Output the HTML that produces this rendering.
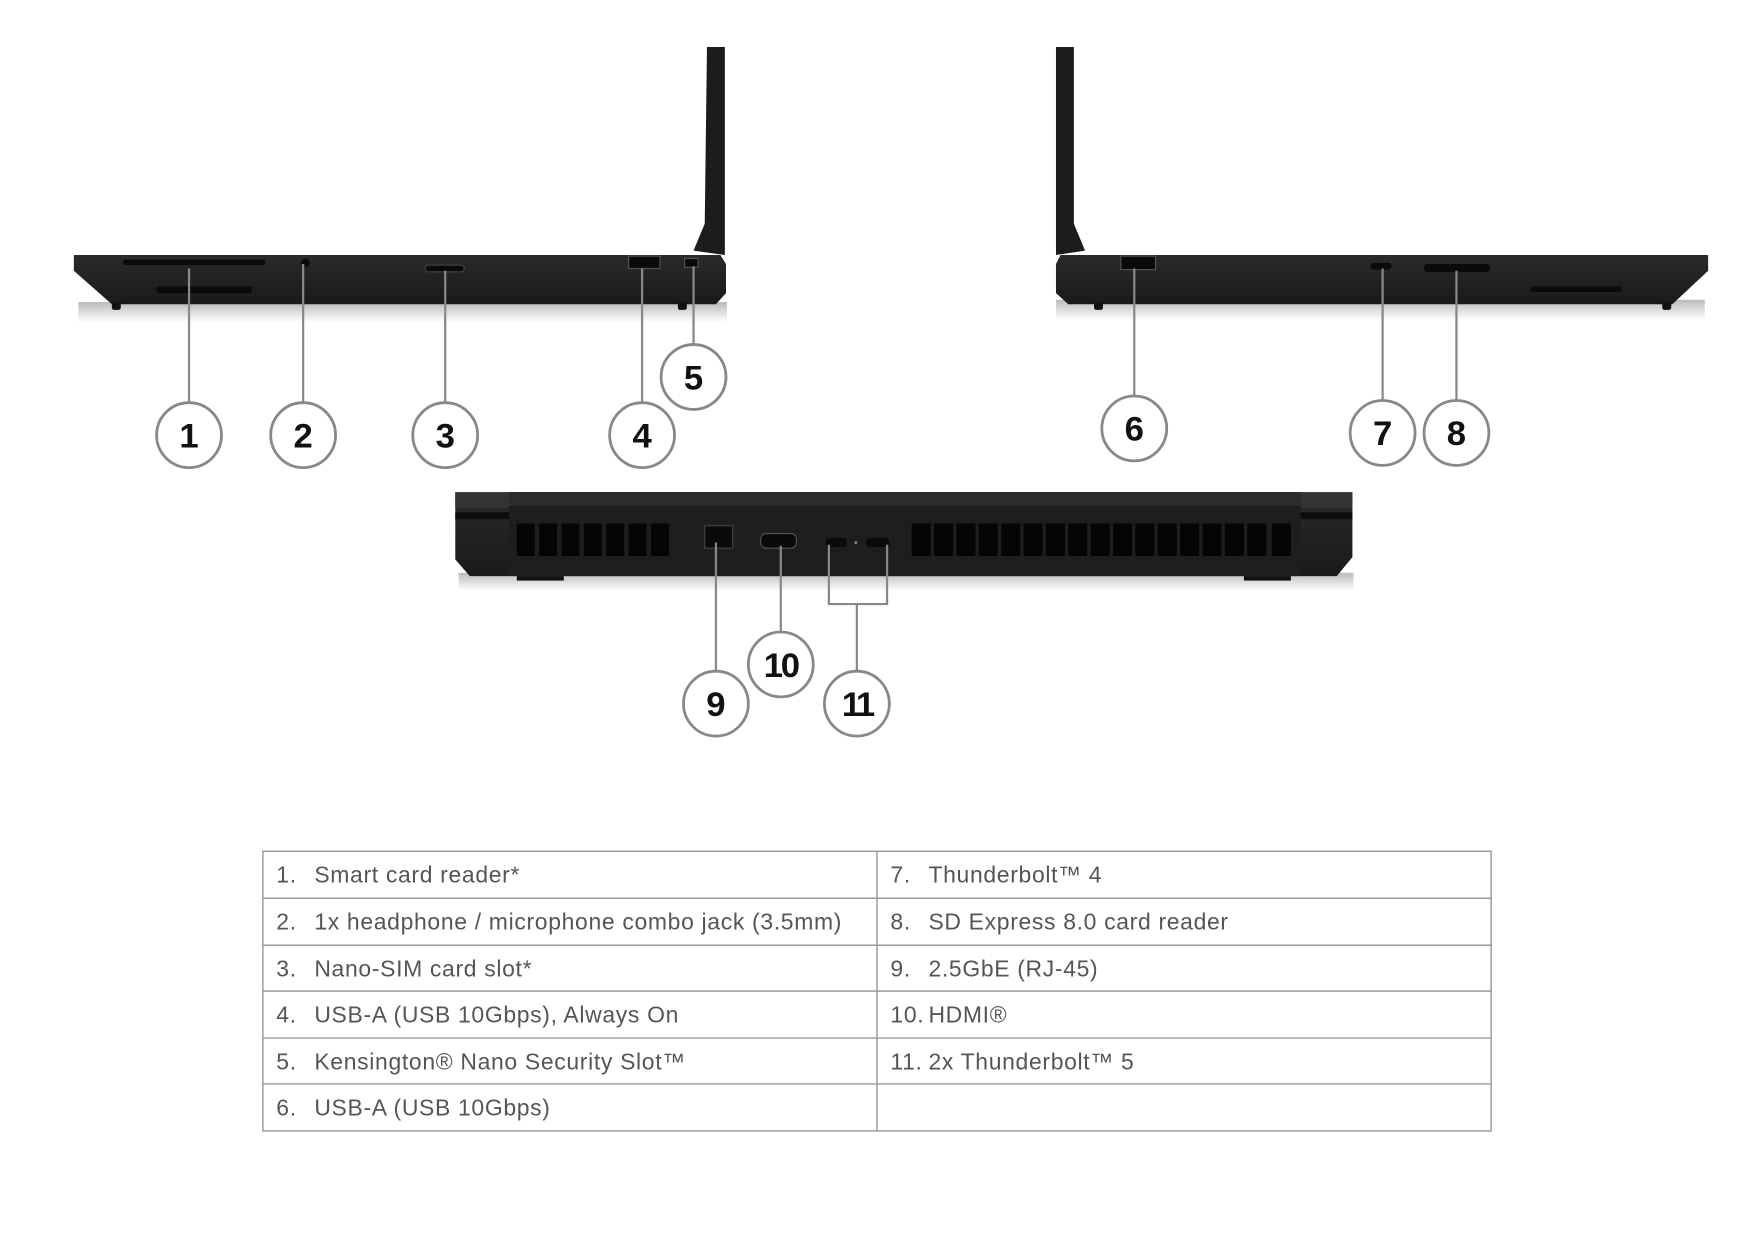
<!DOCTYPE html>
<html><head><meta charset="utf-8"><style>
html,body{margin:0;padding:0;background:#fff;}
svg{display:block;}
</style></head><body>
<svg width="1754" height="1240" viewBox="0 0 1568 1108.5" xmlns="http://www.w3.org/2000/svg">
<defs>
<linearGradient id="sh" x1="0" y1="0" x2="0" y2="1"><stop offset="0" stop-color="#bbb"/><stop offset="1" stop-color="#fff"/></linearGradient>
<linearGradient id="bd" x1="0" y1="0" x2="0" y2="1"><stop offset="0" stop-color="#2a2a2a"/><stop offset="1" stop-color="#1a1a1a"/></linearGradient>
</defs>
<!-- LEFT LAPTOP -->
<rect x="70" y="270" width="580" height="18" fill="url(#sh)"/>
<path d="M632 42 L648 42 L648 228 L620 224 L630 200 Z" fill="#1c1c1c"/>
<path d="M66 228 L644 228 L649 236 L649 262 L640 272 L100 272 L66 242 Z" fill="url(#bd)"/>
<rect x="100" y="270" width="8" height="7" rx="2" fill="#111"/>
<rect x="606" y="270" width="8" height="7" rx="2" fill="#111"/>
<rect x="110" y="232" width="127" height="5" rx="2" fill="#0a0a0a"/>
<rect x="140" y="256" width="85" height="6" rx="2" fill="#0a0a0a"/>
<circle cx="273" cy="235" r="4" fill="#0a0a0a"/>
<rect x="380" y="237" width="35" height="6" rx="3" fill="#0a0a0a" stroke="#444"/>
<rect x="562" y="229" width="28" height="11" fill="#0a0a0a" stroke="#555"/>
<rect x="612" y="231" width="12" height="8" fill="#0a0a0a" stroke="#555"/>
<!-- RIGHT LAPTOP -->
<rect x="944" y="268" width="580" height="18" fill="url(#sh)"/>
<path d="M944 42 L960 42 L960 200 L970 224 L944 228 Z" fill="#1c1c1c"/>
<path d="M948 228 L1527 228 L1527 242 L1495 272 L955 272 L944 262 L944 236 Z" fill="url(#bd)"/>
<rect x="978" y="270" width="8" height="7" rx="2" fill="#111"/>
<rect x="1486" y="270" width="8" height="7" rx="2" fill="#111"/>
<rect x="1002" y="229" width="31" height="12" fill="#0a0a0a" stroke="#555"/>
<rect x="1225" y="235" width="19" height="6" rx="3" fill="#0a0a0a"/>
<rect x="1273" y="236" width="59" height="7" rx="3" fill="#0a0a0a"/>
<rect x="1368" y="256" width="82" height="5" rx="2" fill="#0a0a0a"/>
<!-- REAR -->
<rect x="410" y="512" width="800" height="16" fill="url(#sh)"/>
<path d="M407 440 L1209 440 L1209 498 L1195 515 L420 515 L407 500 Z" fill="url(#bd)"/>
<rect x="407" y="440" width="802" height="14" fill="#333"/>
<rect x="455" y="440" width="708" height="75" fill="#1e1e1e"/>
<rect x="455" y="440" width="708" height="12" fill="#2c2c2c"/>
<rect x="407" y="458" width="48" height="6" fill="#0c0c0c"/>
<rect x="1163" y="458" width="46" height="6" fill="#0c0c0c"/>
<rect x="462" y="515" width="42" height="4" fill="#111"/>
<rect x="1112" y="515" width="42" height="4" fill="#111"/>
<g fill="#050505">
<rect x="462" y="468" width="16" height="29"/><rect x="482" y="468" width="16" height="29"/><rect x="502" y="468" width="16" height="29"/><rect x="522" y="468" width="16" height="29"/><rect x="542" y="468" width="16" height="29"/><rect x="562" y="468" width="16" height="29"/><rect x="582" y="468" width="16" height="29"/>
</g>
<g fill="#050505">
<rect x="815" y="468" width="17" height="29"/><rect x="835" y="468" width="17" height="29"/><rect x="855" y="468" width="17" height="29"/><rect x="875" y="468" width="17" height="29"/><rect x="895" y="468" width="17" height="29"/><rect x="915" y="468" width="17" height="29"/><rect x="935" y="468" width="17" height="29"/><rect x="955" y="468" width="17" height="29"/><rect x="975" y="468" width="17" height="29"/><rect x="995" y="468" width="17" height="29"/><rect x="1015" y="468" width="17" height="29"/><rect x="1035" y="468" width="17" height="29"/><rect x="1055" y="468" width="17" height="29"/><rect x="1075" y="468" width="17" height="29"/><rect x="1095" y="468" width="17" height="29"/><rect x="1115" y="468" width="17" height="29"/><rect x="1137" y="468" width="17" height="29"/>
</g>
<rect x="630" y="470" width="25" height="20" fill="#0a0a0a" stroke="#444"/>
<rect x="680" y="477" width="32" height="13" rx="5" fill="#0a0a0a" stroke="#555"/>
<rect x="738" y="481" width="19" height="8" rx="3" fill="#0a0a0a"/>
<rect x="774" y="481" width="21" height="8" rx="3" fill="#0a0a0a"/>
<circle cx="765" cy="485" r="1.3" fill="#888"/>
<!-- CALLOUT LINES -->
<g stroke="#888" stroke-width="2" fill="none">
<line x1="169" y1="240" x2="169" y2="360"/>
<line x1="271" y1="236" x2="271" y2="360"/>
<line x1="398" y1="242" x2="398" y2="360"/>
<line x1="574" y1="240" x2="574" y2="360"/>
<line x1="620" y1="238" x2="620" y2="308"/>
<line x1="1014" y1="240" x2="1014" y2="354"/>
<line x1="1236" y1="240" x2="1236" y2="358"/>
<line x1="1302" y1="242" x2="1302" y2="358"/>
<line x1="640" y1="485" x2="640" y2="600"/>
<line x1="698" y1="488" x2="698" y2="565"/>
<polyline points="741,487 741,540 793,540 793,487"/>
<line x1="766" y1="540" x2="766" y2="600"/>
</g>
<g stroke="#888" stroke-width="2.5" fill="#fff">
<circle cx="169" cy="389" r="29"/><circle cx="271" cy="389" r="29"/><circle cx="398" cy="389" r="29"/><circle cx="574" cy="389" r="29"/><circle cx="620" cy="337" r="29"/>
<circle cx="1014" cy="383" r="29"/><circle cx="1236" cy="387" r="29"/><circle cx="1302" cy="387" r="29"/>
<circle cx="640" cy="629" r="29"/><circle cx="698" cy="594" r="29"/><circle cx="766" cy="629" r="29"/>
</g>
<g font-family="Liberation Sans, sans-serif" font-weight="bold" font-size="31" fill="#111" text-anchor="middle">
<text x="169" y="400">1</text><text x="271" y="400">2</text><text x="398" y="400">3</text><text x="574" y="400">4</text><text x="620" y="348">5</text>
<text x="1014" y="394">6</text><text x="1236" y="398">7</text><text x="1302" y="398">8</text>
<text x="640" y="640">9</text><text x="698" y="605" letter-spacing="-2">10</text><text x="766" y="640" letter-spacing="-3">11</text>
</g>
<!-- TABLE -->
<g stroke="#999" stroke-width="1.3" fill="none">
<rect x="235" y="761" width="1098" height="250"/>
<line x1="784" y1="761" x2="784" y2="1011"/>
<line x1="235" y1="803" x2="1333" y2="803"/>
<line x1="235" y1="845" x2="1333" y2="845"/>
<line x1="235" y1="886" x2="1333" y2="886"/>
<line x1="235" y1="928" x2="1333" y2="928"/>
<line x1="235" y1="969" x2="1333" y2="969"/>
</g>
<g font-family="Liberation Sans, sans-serif" font-size="20.5" fill="#555" letter-spacing="0.6">
<text x="247" y="789">1.</text><text x="281" y="789">Smart card reader*</text>
<text x="247" y="831">2.</text><text x="281" y="831">1x headphone / microphone combo jack (3.5mm)</text>
<text x="247" y="873">3.</text><text x="281" y="873">Nano-SIM card slot*</text>
<text x="247" y="914">4.</text><text x="281" y="914">USB-A (USB 10Gbps), Always On</text>
<text x="247" y="956">5.</text><text x="281" y="956">Kensington® Nano Security Slot™</text>
<text x="247" y="997">6.</text><text x="281" y="997">USB-A (USB 10Gbps)</text>
<text x="796" y="789">7.</text><text x="830" y="789">Thunderbolt™ 4</text>
<text x="796" y="831">8.</text><text x="830" y="831">SD Express 8.0 card reader</text>
<text x="796" y="873">9.</text><text x="830" y="873">2.5GbE (RJ-45)</text>
<text x="796" y="914">10.</text><text x="830" y="914">HDMI®</text>
<text x="796" y="956">11.</text><text x="830" y="956">2x Thunderbolt™ 5</text>
</g>
</svg>
</body></html>
